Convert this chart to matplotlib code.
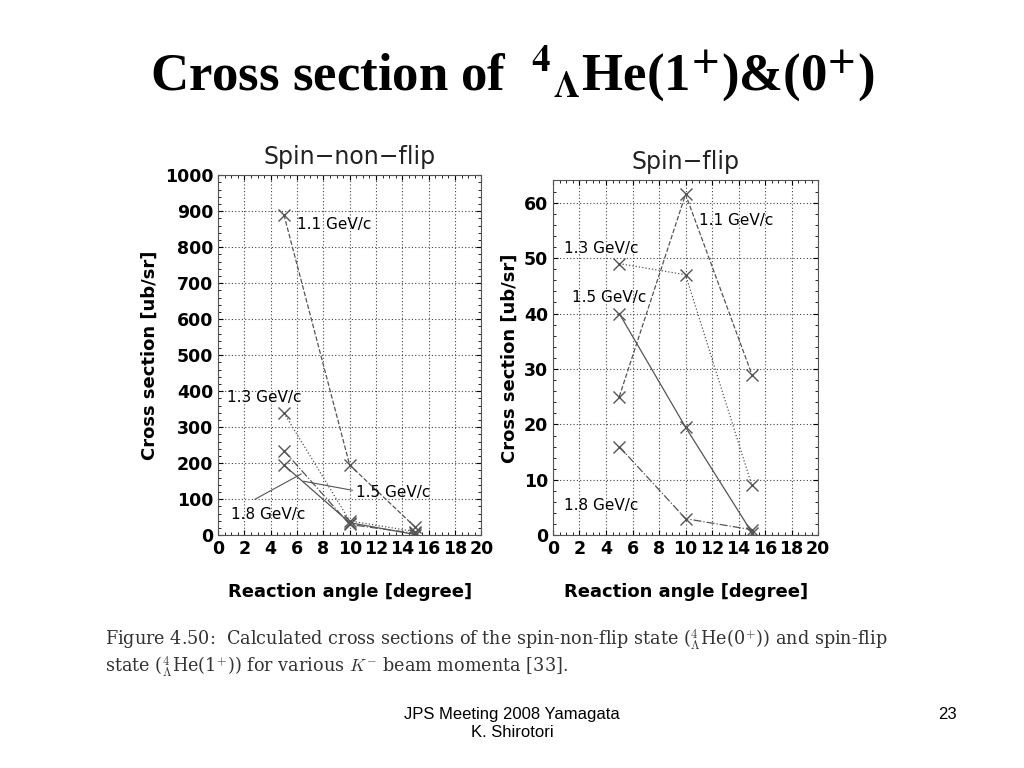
import matplotlib
matplotlib.use("Agg")
import matplotlib.pyplot as plt

angles = [5, 10, 15]
nf_11 = [890, 195, 22]
nf_13 = [340, 40, 10]
nf_15 = [235, 30, 5]
nf_18 = [195, 35, 2]
sf_11 = [25, 61.5, 29]
sf_13 = [49, 47, 9]
sf_15 = [40, 19.5, 0.5]
sf_18 = [16, 3, 1]
xticks = list(range(0, 21, 2))

fig = plt.figure(figsize=(10.24, 7.68), dpi=100)
fig.patch.set_facecolor("white")

fig.text(0.5, 0.905, r"Cross section of  $\mathbf{^{4}{}_{\Lambda}}$He(1$\mathbf{^{+}}$)&(0$\mathbf{^{+}}$)",
         ha="center", va="center", fontsize=38, fontweight="bold",
         family="Liberation Serif", math_fontfamily="stix")

def setup(ax, ylim, yticks, title):
    ax.set_xlim(0, 20)
    ax.set_ylim(*ylim)
    ax.set_xticks(xticks)
    ax.set_yticks(yticks)
    ax.grid(True, linestyle=(0, (1, 2)), color="#444444", linewidth=0.8)
    ax.minorticks_on()
    ax.tick_params(which="both", direction="in", top=True, right=True, labelsize=12.5)
    for lab in ax.get_xticklabels() + ax.get_yticklabels():
        lab.set_fontweight("bold")
    ax.set_title(title, fontsize=17, pad=8, color="#222222")
    ax.set_xlabel("Reaction angle [degree]", fontsize=13, fontweight="bold", labelpad=18)
    ax.set_ylabel("Cross section [ub/sr]", fontsize=13, fontweight="bold")
    for s in ax.spines.values():
        s.set_color("#555555")

col = "#555555"
ax1 = fig.add_axes([0.213, 0.303, 0.257, 0.469])
for ys, ls in [(nf_11, "--"), (nf_13, ":"), (nf_15, "-."), (nf_18, "-")]:
    ax1.plot(angles, ys, linestyle=ls, color=col, linewidth=0.9, marker="x", markersize=8)
setup(ax1, (0, 1000), list(range(0, 1001, 100)), "Spin\u2212non\u2212flip")
ax1.text(6, 850, "1.1 GeV/c", fontsize=11)
ax1.text(0.7, 370, "1.3 GeV/c", fontsize=11)
ax1.text(10.5, 105, "1.5 GeV/c", fontsize=11)
ax1.text(1, 45, "1.8 GeV/c", fontsize=11)
ax1.plot([6.5, 10.2], [150, 125], color=col, linewidth=0.8)
ax1.plot([2.8, 6.3], [100, 170], color=col, linewidth=0.8)

ax2 = fig.add_axes([0.540, 0.303, 0.259, 0.462])
for ys, ls in [(sf_11, "--"), (sf_13, ":"), (sf_15, "-"), (sf_18, "-.")]:
    ax2.plot(angles, ys, linestyle=ls, color=col, linewidth=0.9, marker="x", markersize=9)
setup(ax2, (0, 64), list(range(0, 61, 10)), "Spin\u2212flip")
ax2.text(11, 56, "1.1 GeV/c", fontsize=11)
ax2.text(0.8, 51, "1.3 GeV/c", fontsize=11)
ax2.text(1.4, 42, "1.5 GeV/c", fontsize=11)
ax2.text(0.8, 4.5, "1.8 GeV/c", fontsize=11)

fig.text(0.103, 0.16,
         r"Figure 4.50:  Calculated cross sections of the spin-non-flip state ($^{4}_{\Lambda}$He(0$^{+}$)) and spin-flip",
         fontsize=12.7, family="DejaVu Serif", color="#333333", math_fontfamily="cm")
fig.text(0.103, 0.125,
         r"state ($^{4}_{\Lambda}$He(1$^{+}$)) for various $K^{-}$ beam momenta [33].",
         fontsize=12.7, family="DejaVu Serif", color="#333333", math_fontfamily="cm")

fig.text(0.5, 0.058, "JPS Meeting 2008 Yamagata\nK. Shirotori", ha="center", va="center",
         fontsize=12, family="Liberation Sans")
fig.text(0.925, 0.07, "23", ha="center", va="center", fontsize=12, family="Liberation Sans")

fig.savefig("out.png", dpi=100, facecolor="white")
